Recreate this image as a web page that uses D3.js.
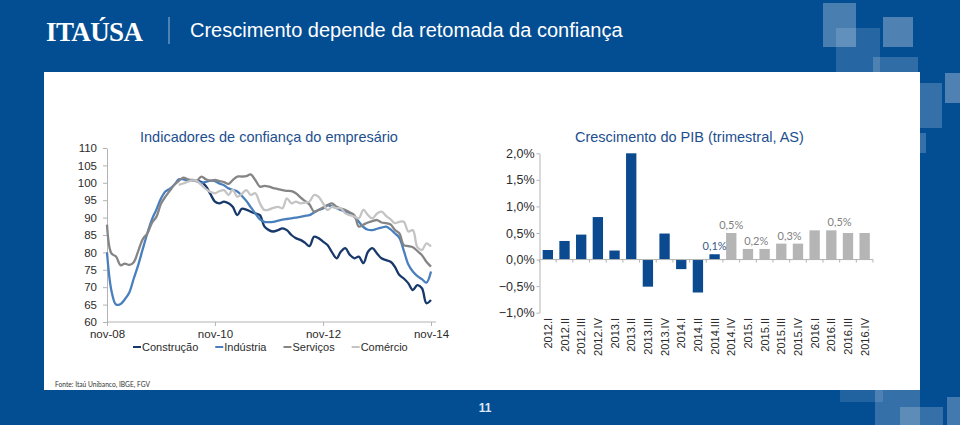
<!DOCTYPE html>
<html><head><meta charset="utf-8">
<script src="https://cdn.jsdelivr.net/npm/d3@7"></script>
<style>html,body{margin:0;padding:0;background:#034d93;overflow:hidden}svg{display:block}</style>
</head><body><svg id="c" width="960" height="425"></svg>
<script>
// ---------- DATA ----------
const pageTitle = "Crescimento depende da retomada da confiança";
const leftTitle = "Indicadores de confiança do empresário";
const rightTitle = "Crescimento do PIB (trimestral, AS)";
const fonte = "Fonte: Itaú Unibanco, IBGE, FGV";
const pageNumber = "11";

// monthly confidence indexes, starting month given per series (year, month index 0-11)
const seriesNames = ["Construção", "Indústria", "Serviços", "Comércio"];
const seriesStart = [[2010, 6], [2008, 10], [2008, 10], [2010, 2]];
const construcao = [100.6,100.2,99,96.8,94.6,94.1,94.6,94.1,93.1,90.7,
  92.5,92.3,91.7,91.2,90.7,87.5,86.4,86,86.4,86.9,
  86.4,85,84.1,83.6,82.8,81.8,84.5,84.1,83.1,82.1,
  80,78.3,80.2,81.2,79.3,78.3,78.8,76.9,80.2,81.2,
  79.7,78.3,77.8,77.3,75.9,73.5,72.5,71.1,69.2,70.6,
  69.7,65.4,66.3];
const industria = [80,69,65,65.2,66.5,68.5,72.5,76.5,81,85.5,
  89.5,92.3,95.5,97.5,98.3,99.5,101,101,100.7,100.8,
  100.4,100,100.3,100.6,100.5,99.8,99.3,98.4,98,97.5,
  96.3,94.8,93,91.2,89.5,88.8,88.7,88.8,89.1,89.4,
  89.6,89.8,90,90.2,90.5,90.7,91.5,92.2,92.6,93.5,
  93.2,92.7,92.2,91.7,91.3,90.2,88.8,87.3,86.5,86.4,
  86.8,87.1,87.4,86.6,85.5,84.2,80.5,76.5,74.5,73.2,
  72.3,71.3,74.5];
const servicos = [88,79.7,78.8,76.3,76.8,76.4,77.2,80.5,83.8,85.5,
  88.5,90.2,94,96,97.8,99.5,100.5,101.5,101,100.7,
  100.6,101.8,101,100.6,100.8,100.5,100.2,99.7,100.8,101.8,
  101.8,101.9,102.4,100.8,98.9,99.1,98.9,98.5,98.2,97.9,
  97.7,97.6,97,95.8,94.8,93.8,91.7,92.2,92.9,93.6,
  94.1,93.1,92.6,92.2,91.5,90.7,87.4,88,88.6,89,
  89.3,88.6,88.4,88,86.5,85.5,82.1,81.8,81.5,80.4,
  79.2,77.3,75.9];
const comercio = [99.4,99.8,100.3,100.7,100.5,99.4,98.2,97.4,97,97.6,
  97.9,96.5,98,96,96.8,97.9,96.5,97,94.1,92.2,
  92.3,92.8,93.1,92.7,95.5,94.1,94.6,94.1,94.3,94.6,
  96.5,96,94.1,92.2,93.1,92.7,92.7,91.2,90.7,90.3,
  89.8,92.2,90.7,89.8,91.2,91.7,90.5,89.5,88.4,88.8,
  88.8,86,86.4,81.5,80.7,82.6,81.7];
const seriesValues = [construcao, industria, servicos, comercio];
const seriesColors = ["#17386b", "#4a7fbd", "#858585", "#c4c4c4"];
const leftYTicks = [60,65,70,75,80,85,90,95,100,105,110];
const leftXTickLabels = ["nov-08", "nov-10", "nov-12", "nov-14"];
const leftXTickDates = [[2008,10],[2010,10],[2012,10],[2014,10]];

// quarterly GDP growth
const quarters = ["2012.I","2012.II","2012.III","2012.IV","2013.I","2013.II","2013.III","2013.IV",
  "2014.I","2014.II","2014.III","2014.IV","2015.I","2015.II","2015.III","2015.IV",
  "2016.I","2016.II","2016.III","2016.IV"];
const pib = [0.18,0.35,0.47,0.80,0.17,2.0,-0.51,0.49,-0.18,-0.62,0.1,0.5,0.2,0.2,0.3,0.3,0.55,0.55,0.5,0.5];
const firstForecast = "2014.IV";
const pibTicks = [-1,-0.5,0,0.5,1,1.5,2];
const pibLabelText = ["0,1%", "0,5%", "0,2%", "0,3%", "0,5%"];
const pibLabelQuarters = [["2014.III"], ["2014.IV"], ["2015.I","2015.II"], ["2015.III","2015.IV"], ["2016.II","2016.III"]];

// ---------- DRAW ----------
const svg = d3.select("#c");
const SANS = "'Liberation Sans', Arial, sans-serif";

// background
svg.append("rect").attr("width",960).attr("height",425).attr("fill","#034d93");
const deco = [[823,3,33,44,0.28],[836,28,44,44,0.14],[883,17,30,30,0.3],[873,57,45,20,0.18],
  [920,83,22,45,0.2],[945,73,20,30,0.3],[918,133,8,20,0.2],
  [840,390,43,12,0.12],[875,390,45,35,0.2],[900,407,43,18,0.2],[947,397,20,28,0.25]];
svg.append("g").selectAll("rect").data(deco).join("rect")
  .attr("x",d=>d[0]).attr("y",d=>d[1]).attr("width",d=>d[2]).attr("height",d=>d[3])
  .attr("fill","#fff").attr("opacity",d=>d[4]);
// panel
svg.append("rect").attr("x",44).attr("y",72).attr("width",876).attr("height",318).attr("fill","#fff");

// header
svg.append("text").attr("x",46).attr("y",41).text("ITAÚSA")
  .attr("font-family","'Liberation Serif','DejaVu Serif',serif").attr("font-weight","bold")
  .attr("font-size",27).attr("fill","#fff").attr("letter-spacing",-0.6);
svg.append("line").attr("x1",169).attr("x2",169).attr("y1",17).attr("y2",44)
  .attr("stroke","#fff").attr("stroke-opacity",0.6);
svg.append("text").attr("x",190).attr("y",37).text(pageTitle)
  .attr("font-family",SANS).attr("font-size",20).attr("fill","#fff");

// footer
svg.append("text").attr("x",55).attr("y",387).text(fonte)
  .attr("font-family","Lato, 'Open Sans', sans-serif").attr("font-size",7.5).attr("fill","#333")
  .attr("textLength",95).attr("lengthAdjust","spacingAndGlyphs");
svg.append("text").attr("x",485).attr("y",412).attr("text-anchor","middle").text(pageNumber)
  .attr("font-family",SANS).attr("font-size",12).attr("font-weight","bold").attr("fill","#dce7f5");

// ---------- LEFT CHART ----------
const axisColor = "#b3b3b3";
const textColor = "#2b2b2b";
const x = d3.scaleTime().domain([new Date(2008,10,1), new Date(2014,10,1)]).range([107,431]);
const y = d3.scaleLinear().domain([60,110]).range([322,148]);

svg.append("text").attr("x",140).attr("y",142).text(leftTitle)
  .attr("font-family",SANS).attr("font-size",14.5).attr("fill","#1d4f8e");

const gy = svg.append("g").attr("transform","translate(107,0)")
  .call(d3.axisLeft(y).tickValues(leftYTicks).tickSize(4).tickPadding(6).tickSizeOuter(0));
gy.select(".domain").attr("stroke",axisColor);
gy.selectAll(".tick line").attr("stroke",axisColor);
gy.selectAll("text").attr("font-family",SANS).attr("font-size",11.5).attr("fill",textColor);

const xTickDates = leftXTickDates.map(d=>new Date(d[0],d[1],1));
const gx = svg.append("g").attr("transform","translate(0,322)")
  .call(d3.axisBottom(x).tickValues(xTickDates).tickSize(4).tickPadding(4).tickSizeOuter(0)
    .tickFormat((d,i)=>leftXTickLabels[i]));
gx.select(".domain").remove();
gx.append("line").attr("x1",107).attr("x2",436).attr("stroke",axisColor);
gx.selectAll(".tick line").attr("stroke",axisColor);
gx.selectAll("text").attr("font-family",SANS).attr("font-size",11.5).attr("fill",textColor);

const line = d3.line().x(d=>x(d.date)).y(d=>y(d.v)).curve(d3.curveCatmullRom.alpha(0.5));
seriesValues.forEach((vals,i)=>{
  const st = seriesStart[i];
  const pts = vals.map((v,k)=>({date:new Date(st[0], st[1]+k, 1), v}));
  svg.append("path").datum(pts).attr("d",line).attr("fill","none")
    .attr("stroke",seriesColors[i]).attr("stroke-width",2.3).attr("stroke-linejoin","round");
});

// legend
let lx = 133;
seriesNames.forEach((n,i)=>{
  svg.append("line").attr("x1",lx).attr("x2",lx+8).attr("y1",347).attr("y2",347)
    .attr("stroke",seriesColors[i]).attr("stroke-width",2);
  const t = svg.append("text").attr("x",lx+9).attr("y",351).text(n)
    .attr("font-family",SANS).attr("font-size",11).attr("fill",textColor);
  lx += 9 + t.node().getComputedTextLength() + 17;
});

// ---------- RIGHT CHART ----------
const xb = d3.scaleBand().domain(quarters).range([539.5,873]).paddingInner(0.38).paddingOuter(0.19);
const yb = d3.scaleLinear().domain([-1,2]).range([312.7,153.3]);
const fmt = v => d3.format(".1f")(v).replace(".",",") + "%";

svg.append("text").attr("x",575).attr("y",142).text(rightTitle)
  .attr("font-family",SANS).attr("font-size",14.5).attr("fill","#1d4f8e");

const gyb = svg.append("g").attr("transform","translate(539.5,0)")
  .call(d3.axisLeft(yb).tickValues(pibTicks).tickSize(3).tickPadding(2).tickSizeOuter(0).tickFormat(fmt));
gyb.select(".domain").attr("stroke",axisColor);
gyb.selectAll(".tick line").attr("stroke",axisColor);
gyb.selectAll("text").attr("font-family",SANS).attr("font-size",12.5).attr("fill",textColor);

const fIdx = quarters.indexOf(firstForecast);
svg.append("g").selectAll("rect").data(quarters).join("rect")
  .attr("x",d=>xb(d)).attr("width",xb.bandwidth())
  .attr("y",(d,i)=>yb(Math.max(0,pib[i])))
  .attr("height",(d,i)=>Math.abs(yb(pib[i])-yb(0)))
  .attr("fill",(d,i)=> i < fIdx ? "#0b4a8f" : "#b5b5b5");

// zero axis with boundary ticks
const step = xb.step();
const gz = svg.append("g");
gz.append("line").attr("x1",539.5).attr("x2",873).attr("y1",yb(0)).attr("y2",yb(0)).attr("stroke",axisColor);
gz.selectAll("line.tk").data(d3.range(quarters.length+1)).join("line").attr("class","tk")
  .attr("x1",i=>539.5+i*step).attr("x2",i=>539.5+i*step)
  .attr("y1",yb(0)).attr("y2",yb(0)+3).attr("stroke",axisColor);

// category labels
svg.append("g").selectAll("text").data(quarters).join("text")
  .attr("transform",d=>`translate(${xb(d)+xb.bandwidth()/2+4},318) rotate(-90)`)
  .attr("text-anchor","end").text(d=>d)
  .attr("font-family",SANS).attr("font-size",11).attr("fill",textColor);

// value labels
svg.append("g").selectAll("text").data(pibLabelText).join("text")
  .attr("x",(d,i)=>d3.mean(pibLabelQuarters[i], q=>xb(q)+xb.bandwidth()/2))
  .attr("y",(d,i)=>yb(d3.max(pibLabelQuarters[i], q=>pib[quarters.indexOf(q)]))-4)
  .attr("text-anchor","middle").text(d=>d)
  .attr("font-family","Lato, 'Open Sans', sans-serif").attr("font-size",11)
  .attr("fill",(d,i)=> quarters.indexOf(pibLabelQuarters[i][0]) < fIdx ? "#3a5b86" : "#7f7f7f");
</script></body></html>
